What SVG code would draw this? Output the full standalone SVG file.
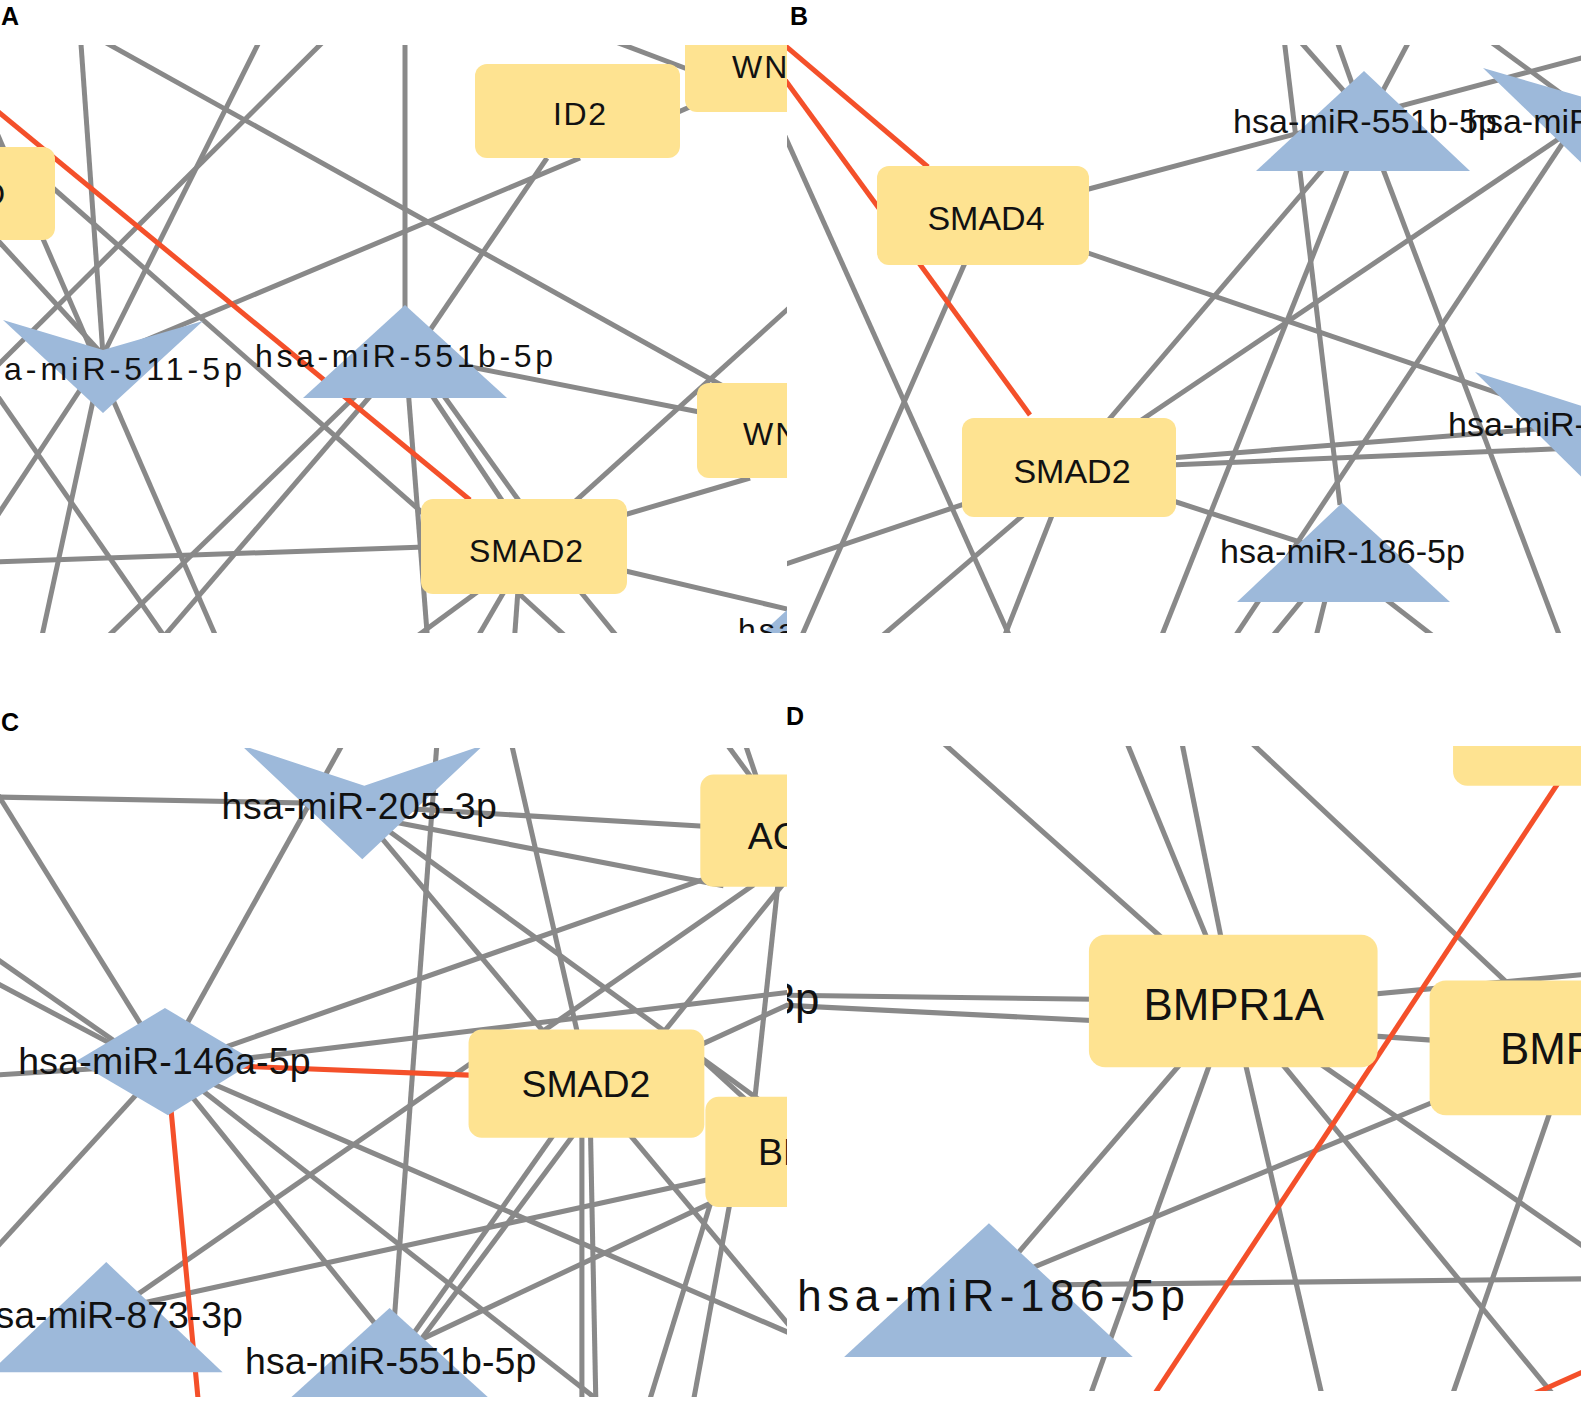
<svg xmlns="http://www.w3.org/2000/svg" width="1581" height="1401" viewBox="0 0 1581 1401">
<style>
.e{stroke:#898989;stroke-width:5;fill:none}
.r{stroke:#F4502A;stroke-width:5;fill:none}
.g{fill:#FEE391}
.m{fill:#9DB9DA}
.t{font-family:"Liberation Sans",Arial,Helvetica,sans-serif;fill:#111}
.pl{font-family:"Liberation Sans",Arial,Helvetica,sans-serif;font-weight:bold;font-size:25px;fill:#000}
.a{font-size:32px}
.b{font-size:34px}
.c{font-size:37px}
.d{font-size:43px}
</style>
<defs>
<clipPath id="cA"><rect x="0" y="45" width="787" height="588"/></clipPath>
<clipPath id="cB"><rect x="787" y="45" width="794" height="588"/></clipPath>
<clipPath id="cC"><rect x="0" y="748" width="787" height="649"/></clipPath>
<clipPath id="cD"><rect x="787" y="746" width="794" height="645"/></clipPath>
</defs>
<rect width="1581" height="1401" fill="#fff"/>
<text class="pl" x="1" y="25">A</text>
<text class="pl" x="790" y="25">B</text>
<text class="pl" x="1" y="731">C</text>
<text class="pl" x="786" y="725">D</text>

<g id="panelA" clip-path="url(#cA)">
<g id="edgesA">
<line class="e" x1="80" y1="30" x2="103" y2="355"/>
<line class="e" x1="83" y1="30" x2="730" y2="390"/>
<line class="e" x1="265" y1="30" x2="103" y2="355"/>
<line class="e" x1="335" y1="30" x2="-15" y2="378"/>
<line class="e" x1="-10" y1="117" x2="220" y2="646"/>
<line class="e" x1="20" y1="159" x2="450" y2="537"/>
<line class="e" x1="-20" y1="221" x2="103" y2="355"/>
<line class="e" x1="103" y1="358" x2="580" y2="158"/>
<line class="e" x1="103" y1="355" x2="-20" y2="542"/>
<line class="e" x1="103" y1="355" x2="40" y2="645"/>
<line class="e" x1="-40" y1="342" x2="180" y2="659"/>
<line class="e" x1="-10" y1="562" x2="425" y2="547"/>
<line class="e" x1="372" y1="380" x2="99" y2="645"/>
<line class="e" x1="384" y1="380" x2="160" y2="641"/>
<line class="e" x1="405" y1="30" x2="405" y2="370"/>
<line class="e" x1="403" y1="370" x2="547" y2="158"/>
<line class="e" x1="420" y1="357" x2="740" y2="420"/>
<line class="e" x1="425" y1="385" x2="505" y2="505"/>
<line class="e" x1="436" y1="385" x2="522" y2="505"/>
<line class="e" x1="407" y1="375" x2="428" y2="645"/>
<line class="e" x1="800" y1="298" x2="560" y2="515"/>
<line class="e" x1="600" y1="522" x2="750" y2="478"/>
<line class="e" x1="600" y1="565" x2="800" y2="612"/>
<line class="e" x1="480" y1="590" x2="405" y2="645"/>
<line class="e" x1="505" y1="590" x2="473" y2="645"/>
<line class="e" x1="518" y1="590" x2="514" y2="645"/>
<line class="e" x1="515" y1="590" x2="575" y2="645"/>
<line class="e" x1="575" y1="585" x2="624" y2="645"/>
<line class="e" x1="600" y1="36" x2="690" y2="70"/>
<line class="e" x1="676" y1="113" x2="692" y2="106"/>
<line class="r" x1="-10" y1="105" x2="470" y2="500"/>
</g>
<g id="A-left"><rect class="g" x="-150" y="147" width="205" height="93" rx="12"/><text class="t a" x="-18" y="205">D</text></g>
<g id="A-ID2"><rect class="g" x="475" y="64" width="205" height="94" rx="12"/><text class="t a" x="553" y="125" textLength="53">ID2</text></g>
<g id="A-WNTtop"><rect class="g" x="685" y="20" width="120" height="92" rx="12"/><text class="t a" x="732" y="78" letter-spacing="2">WNT</text></g>
<g id="A-WNTlow"><rect class="g" x="697" y="383" width="115" height="95" rx="12"/><text class="t a" x="743" y="445" letter-spacing="2">WNT</text></g>
<g id="A-SMAD2"><rect class="g" x="421" y="499" width="206" height="95" rx="12"/><text class="t a" x="469" y="562" textLength="114">SMAD2</text></g>
<g id="A-mir551b"><polygon class="m" points="303,398 405,305 507,398"/><text class="t a" x="255" y="367" textLength="298">hsa-miR-551b-5p</text></g>
<g id="A-mir511"><polygon class="m" points="3,320 103,350 203,321 103,413"/><text class="t a" x="-38" y="380" textLength="280">hsa-miR-511-5p</text></g>
<g id="A-partial"><polygon class="m" points="800,598 700,690 900,690"/><text class="t a" x="738" y="641" letter-spacing="3">hsa</text></g>
</g>

<g id="panelB" clip-path="url(#cB)">
<g id="edgesB">
<line class="e" x1="780" y1="125" x2="1010" y2="637"/>
<line class="e" x1="975" y1="240" x2="800" y2="640"/>
<line class="e" x1="1085" y1="190" x2="1600" y2="53"/>
<line class="e" x1="1085" y1="252" x2="1530" y2="404"/>
<line class="e" x1="1283" y1="30" x2="1340" y2="505"/>
<line class="e" x1="1290" y1="30" x2="1365" y2="115"/>
<line class="e" x1="1333" y1="30" x2="1365" y2="120"/>
<line class="e" x1="1415" y1="30" x2="1370" y2="115"/>
<line class="e" x1="1480" y1="34" x2="1600" y2="122"/>
<line class="e" x1="1358" y1="128" x2="1100" y2="430"/>
<line class="e" x1="1359" y1="140" x2="1160" y2="640"/>
<line class="e" x1="1372" y1="140" x2="1563" y2="645"/>
<line class="e" x1="1600" y1="111" x2="1140" y2="421"/>
<line class="e" x1="1590" y1="102" x2="1228" y2="647"/>
<line class="e" x1="1170" y1="458" x2="1550" y2="428"/>
<line class="e" x1="1170" y1="465" x2="1600" y2="447"/>
<line class="e" x1="1170" y1="500" x2="1340" y2="555"/>
<line class="e" x1="780" y1="566" x2="1000" y2="492"/>
<line class="e" x1="1050" y1="492" x2="875" y2="642"/>
<line class="e" x1="1060" y1="495" x2="1001" y2="645"/>
<line class="e" x1="1335" y1="560" x2="1262" y2="649"/>
<line class="e" x1="1335" y1="560" x2="1313" y2="649"/>
<line class="e" x1="1335" y1="560" x2="1450" y2="649"/>
<line class="r" x1="775" y1="37" x2="928" y2="167"/>
<line class="r" x1="775" y1="66" x2="1030" y2="415"/>
</g>
<g id="B-SMAD4"><rect class="g" x="877" y="166" width="212" height="99" rx="12"/><text class="t b" x="986" y="230" text-anchor="middle">SMAD4</text></g>
<g id="B-SMAD2"><rect class="g" x="962" y="418" width="214" height="99" rx="12"/><text class="t b" x="1072" y="483" text-anchor="middle">SMAD2</text></g>
<g id="B-mir551b"><polygon class="m" points="1256,171 1364,71 1470,171"/><text class="t b" x="1233" y="133" textLength="264">hsa-miR-551b-5p</text></g>
<g id="B-mirTR"><polygon class="m" points="1483,68 1620,108 1620,200"/><text class="t b" x="1467" y="133">hsa-miR</text></g>
<g id="B-mirR"><polygon class="m" points="1475,372 1620,418 1620,515"/><text class="t b" x="1448" y="436">hsa-miR-</text></g>
<g id="B-mir186"><polygon class="m" points="1237,602 1342,503 1450,602"/><text class="t b" x="1220" y="563" textLength="245">hsa-miR-186-5p</text></g>
</g>

<g id="panelC" clip-path="url(#cC)">
<g transform="translate(0,748) scale(1.012,1.02) translate(0,-748)">
<g id="edgesC">
<line class="e" x1="-10" y1="796" x2="360" y2="803"/>
<line class="e" x1="360" y1="805" x2="700" y2="825"/>
<line class="e" x1="-10" y1="781" x2="163" y2="1057"/>
<line class="e" x1="-10" y1="950" x2="163" y2="1070"/>
<line class="e" x1="-10" y1="975" x2="163" y2="1066"/>
<line class="e" x1="-10" y1="1069" x2="163" y2="1058"/>
<line class="e" x1="163" y1="1057" x2="342" y2="738"/>
<line class="e" x1="163" y1="1062" x2="715" y2="870"/>
<line class="e" x1="163" y1="1062" x2="800" y2="985"/>
<line class="e" x1="163" y1="1057" x2="-10" y2="1245"/>
<line class="e" x1="163" y1="1057" x2="393" y2="1340"/>
<line class="e" x1="163" y1="1055" x2="607" y2="1400"/>
<line class="e" x1="163" y1="1057" x2="800" y2="1330"/>
<line class="e" x1="360" y1="815" x2="715" y2="883"/>
<line class="e" x1="360" y1="816" x2="800" y2="1338"/>
<line class="e" x1="360" y1="812" x2="760" y2="1100"/>
<line class="e" x1="432" y1="740" x2="388" y2="1330"/>
<line class="e" x1="505" y1="742" x2="585" y2="1090"/>
<line class="e" x1="715" y1="740" x2="752" y2="790"/>
<line class="e" x1="735" y1="740" x2="752" y2="790"/>
<line class="e" x1="520" y1="1037" x2="745" y2="882"/>
<line class="e" x1="640" y1="1046" x2="775" y2="880"/>
<line class="e" x1="770" y1="870" x2="745" y2="1100"/>
<line class="e" x1="690" y1="1040" x2="800" y2="990"/>
<line class="e" x1="690" y1="1050" x2="745" y2="1100"/>
<line class="e" x1="480" y1="1047" x2="105" y2="1305"/>
<line class="e" x1="705" y1="1170" x2="105" y2="1300"/>
<line class="e" x1="705" y1="1193" x2="390" y2="1340"/>
<line class="e" x1="552" y1="1120" x2="396" y2="1340"/>
<line class="e" x1="572" y1="1120" x2="407" y2="1340"/>
<line class="e" x1="575" y1="1100" x2="575" y2="1400"/>
<line class="e" x1="583" y1="1100" x2="589" y2="1400"/>
<line class="e" x1="705" y1="1185" x2="638" y2="1400"/>
<line class="e" x1="722" y1="1190" x2="683" y2="1400"/>
<line class="r" x1="163" y1="1057" x2="470" y2="1069"/>
<line class="r" x1="165" y1="1060" x2="197" y2="1400"/>
</g>
<g id="C-AC"><rect class="g" x="692" y="774" width="115" height="110" rx="13"/><text class="t c" x="739" y="847">AC</text></g>
<g id="C-BM"><rect class="g" x="697" y="1090" width="115" height="108" rx="13"/><text class="t c" x="749" y="1157">BM</text></g>
<g id="C-SMAD2"><rect class="g" x="463" y="1024" width="233" height="106" rx="13"/><text class="t c" x="579" y="1090" text-anchor="middle">SMAD2</text></g>
<g id="C-mir205"><polygon class="m" points="238,745 360,785 478,745 358,857"/><text class="t c" x="219" y="818" textLength="272">hsa-miR-205-3p</text></g>
<g id="C-mir146a"><polygon class="m" points="163,1003 252,1055 166,1108 75,1055"/><text class="t c" x="18" y="1068" textLength="289">hsa-miR-146a-5p</text></g>
<g id="C-mir873"><polygon class="m" points="105,1252 -10,1360 220,1360"/><text class="t c" x="-25" y="1317" textLength="265">hsa-miR-873-3p</text></g>
<g id="C-mir551b"><polygon class="m" points="385,1297 275,1396 495,1396"/><text class="t c" x="242" y="1362" textLength="288">hsa-miR-551b-5p</text></g>
</g>
</g>

<g id="panelD" clip-path="url(#cD)">
<g transform="translate(787,746) scale(1.02) translate(-787,-742)">
<g id="edgesD">
<line class="e" x1="930" y1="730" x2="1224" y2="992"/>
<line class="e" x1="1117" y1="731" x2="1224" y2="992"/>
<line class="e" x1="1172" y1="728" x2="1225" y2="992"/>
<line class="e" x1="1235" y1="732" x2="1560" y2="1037"/>
<line class="e" x1="760" y1="986" x2="1224" y2="992"/>
<line class="e" x1="760" y1="995" x2="1224" y2="1018"/>
<line class="e" x1="1300" y1="991" x2="1600" y2="963"/>
<line class="e" x1="1300" y1="1022" x2="1500" y2="1036"/>
<line class="e" x1="1193" y1="1030" x2="987" y2="1270"/>
<line class="e" x1="1210" y1="1030" x2="1082" y2="1385"/>
<line class="e" x1="1231" y1="1030" x2="1313" y2="1385"/>
<line class="e" x1="1253" y1="1030" x2="1544" y2="1385"/>
<line class="e" x1="1290" y1="1040" x2="1600" y2="1255"/>
<line class="e" x1="1450" y1="1079" x2="990" y2="1269"/>
<line class="e" x1="1544" y1="1075" x2="1437" y2="1385"/>
<line class="e" x1="985" y1="1271" x2="1600" y2="1264"/>
<line class="r" x1="1565" y1="745" x2="1139" y2="1390"/>
<line class="r" x1="1515" y1="1379" x2="1600" y2="1341"/>
</g>
<g id="D-top"><rect class="g" x="1440" y="690" width="200" height="91" rx="14"/></g>
<g id="D-BMPR1A"><rect class="g" x="1083" y="927" width="283" height="130" rx="16"/><text class="t d" x="1225" y="1011" text-anchor="middle">BMPR1A</text></g>
<g id="D-BMP"><rect class="g" x="1417" y="972" width="283" height="132" rx="16"/><text class="t d" x="1486" y="1054">BMPR</text></g>
<g id="D-mir186"><polygon class="m" points="985,1210 843,1341 1126,1341"/><text class="t d" x="797" y="1296" textLength="380">hsa-miR-186-5p</text></g>
<g id="D-leftlabel"><text class="t d" x="771" y="1005">3p</text></g>
</g>
</g>
</svg>
